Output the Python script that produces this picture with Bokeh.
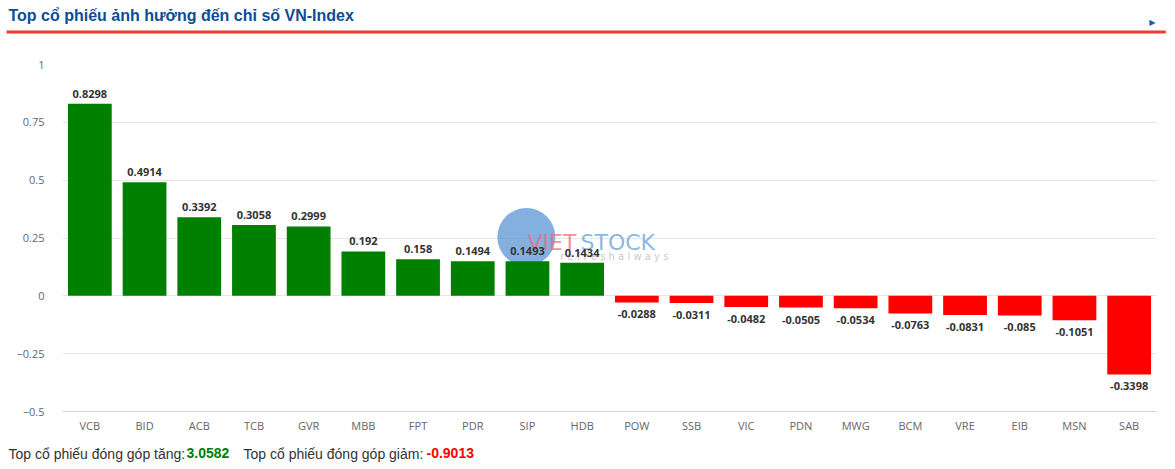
from bokeh.plotting import figure
from bokeh.models import ColumnDataSource, FixedTicker, Range1d, Title
from bokeh.core.properties import value
from bokeh.embed import file_html
from bokeh.resources import INLINE

# ---- data ----
tickers = ["VCB", "BID", "ACB", "TCB", "GVR", "MBB", "FPT", "PDR", "SIP", "HDB",
           "POW", "SSB", "VIC", "PDN", "MWG", "BCM", "VRE", "EIB", "MSN", "SAB"]
impact = [0.8298, 0.4914, 0.3392, 0.3058, 0.2999, 0.192, 0.158, 0.1494, 0.1493, 0.1434,
          -0.0288, -0.0311, -0.0482, -0.0505, -0.0534, -0.0763, -0.0831, -0.085, -0.1051, -0.3398]
y_ticks = [-0.5, -0.25, 0, 0.25, 0.5, 0.75, 1]
y_tick_labels = ["\u22120.5", "\u22120.25", "0", "0.25", "0.5", "0.75", "1"]
title_text = "Top cổ phiếu ảnh hưởng đến chỉ số VN-Index"
up_label = "Top cổ phiếu đóng góp tăng:"
up_total = "3.0582"
down_label = "Top cổ phiếu đóng góp giảm:"
down_total = "-0.9013"

GREEN = "#008000"
RED = "#ff0000"
W, H = 1167, 469
BL, BR, BT, BB = 62, 11, 63, 58

colors = [GREEN if v >= 0 else RED for v in impact]
labels = [str(v) for v in impact]
pos_src = ColumnDataSource(dict(x=[t for t, v in zip(tickers, impact) if v >= 0],
                                y=[v for v in impact if v >= 0],
                                l=[l for l, v in zip(labels, impact) if v >= 0]))
neg_src = ColumnDataSource(dict(x=[t for t, v in zip(tickers, impact) if v < 0],
                                y=[v for v in impact if v < 0],
                                l=[l for l, v in zip(labels, impact) if v < 0]))
src = ColumnDataSource(dict(x=tickers, top=impact, color=colors))

p = figure(width=W, height=H, x_range=tickers, y_range=Range1d(-0.5, 1),
           output_backend="svg", toolbar_location=None,
           min_border_left=BL, min_border_right=BR, min_border_top=BT, min_border_bottom=BB)
p.outline_line_color = None
p.xgrid.grid_line_color = None
p.ygrid.grid_line_color = "#e6e6e6"
p.yaxis.ticker = FixedTicker(ticks=y_ticks)
p.yaxis.major_label_overrides = {t: l for t, l in zip(y_ticks, y_tick_labels)}
p.yaxis.axis_line_color = None
p.yaxis.major_tick_line_color = None
p.yaxis.minor_tick_line_color = None
p.yaxis.major_label_standoff = 12
p.xaxis.axis_line_color = "#ccd6eb"
p.xaxis.major_tick_line_color = None
p.xaxis.major_tick_out = 0
p.xaxis.major_label_standoff = 6
for ax in (p.xaxis, p.yaxis):
    ax.major_label_text_font = "Open Sans"
    ax.major_label_text_font_size = "11px"
    ax.major_label_text_color = "#666666"

# header: red rule (held in place by a spacer), title, small arrow
top_spacer = Title(text="\u00a0", text_font_size="1px", standoff=28)
rule = Title(text="\u00a0", text_font_size="1px", align="left", offset=-56, standoff=0,
             background_fill_color="#ef3b2d", border_line_color=None,
             padding=dict(left=0, right=1159, top=1, bottom=1))
main_title = Title(text=title_text, align="left", offset=-54, standoff=9,
                   text_font="Liberation Sans", text_font_style="bold",
                   text_font_size="16px", text_color="#0b4d96")
arrow = Title(text="\u25b6", text_font="DejaVu Sans", text_font_size="8px",
              text_color="#1a5fb4", align="right", offset=1, standoff=-53.2)
p.add_layout(top_spacer, "above")
p.add_layout(rule, "above")
p.add_layout(main_title, "above")
p.add_layout(arrow, "above")

# watermark (decorative logo)
p.scatter(x=[8.48], y=[0.254], size=58, color="#5b95d5", alpha=0.75, line_color=None)
p.text(x=[8.5], y=[0.23], text=["VIET"], text_font=value("DejaVu Sans"),
       text_font_size="22px", text_color="#f06a7a", text_alpha=0.75,
       text_baseline="middle", text_align="left")
p.text(x=[9.47], y=[0.23], text=["STOCK"], text_font=value("DejaVu Sans"),
       text_font_size="22px", text_color="#6aa6dc", text_alpha=0.8,
       text_baseline="middle", text_align="left")
p.text(x=[9.1], y=[0.172], text=["r e f r e s h    a l w a y s"], text_font=value("DejaVu Sans"),
       text_font_size="10px", text_color="#bbbbbb", text_alpha=0.8,
       text_baseline="middle", text_align="left")

p.vbar(x="x", top="top", bottom=0, width=0.8, color="color", line_color=None, source=src)

common = dict(text_font=value("Open Sans"), text_font_style="bold", text_font_size="11px",
              text_color="#333333", text_align="center")
p.text(x="x", y="y", text="l", source=pos_src, text_baseline="bottom", y_offset=-6, **common)
p.text(x="x", y="y", text="l", source=neg_src, text_baseline="top", y_offset=8, **common)

# footer: numbers first, a small spacer, then the grey labels; all share one row
def footer_piece(fx, txt, col, style):
    return Title(text=txt, align="left", offset=fx - BL, standoff=-17.6,
                 text_font="Liberation Sans", text_font_style=style, text_font_size="14px",
                 text_color=col)

p.add_layout(Title(text="\u00a0", text_font_size="1px", standoff=10.5), "below")
p.add_layout(footer_piece(186, up_total, GREEN, "bold"), "below")
p.add_layout(footer_piece(426, down_total, RED, "bold"), "below")
p.add_layout(Title(text="\u00a0", text_font_size="1px", standoff=0.4), "below")
p.add_layout(footer_piece(8, up_label, "#333333", "normal"), "below")
p.add_layout(footer_piece(243, down_label, "#333333", "normal"), "below")

open("out.html", "w").write(file_html(p, INLINE))
